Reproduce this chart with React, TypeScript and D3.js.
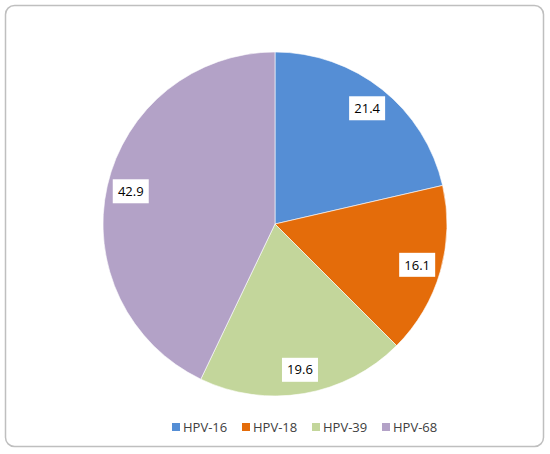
import React, { useRef, useEffect } from "react";
import * as d3 from "d3";

const categories = ["HPV-16", "HPV-18", "HPV-39", "HPV-68"];
const values = [21.4, 16.1, 19.6, 42.9];
const colors = ["#558ED5", "#E46C0A", "#C3D69B", "#B3A2C7"];

const width = 550;
const height = 454;

function App() {
    const svgRef = useRef<SVGSVGElement>(null);

    useEffect(() => {
        const svg = d3.select(svgRef.current);
        svg.selectAll("*").remove();

        const font = "'Open Sans', sans-serif";

        // chart frame
        svg.append("rect")
            .attr("x", 5.5).attr("y", 5.5)
            .attr("width", 538).attr("height", 441)
            .attr("rx", 9)
            .attr("fill", "#fff")
            .attr("stroke", "#BFBFBF")
            .attr("stroke-width", 1.5);

        const cx = 275, cy = 224, r = 172;
        const g = svg.append("g").attr("transform", `translate(${cx},${cy})`);

        const pie = d3.pie<number>().sort(null).value(d => d);
        const arcs = pie(values);
        const arc = d3.arc<d3.PieArcDatum<number>>().innerRadius(0).outerRadius(r);
        const labelArc = d3.arc<d3.PieArcDatum<number>>().innerRadius(r * 0.86).outerRadius(r * 0.86);

        g.selectAll(".slice")
            .data(arcs)
            .join("path")
            .attr("class", "slice")
            .attr("d", arc)
            .attr("fill", (d, i) => colors[i])
            .attr("stroke", "#fff")
            .attr("stroke-width", 0.6);

        const labels = g.selectAll(".label")
            .data(arcs)
            .join("g")
            .attr("class", "label")
            .attr("transform", d => `translate(${labelArc.centroid(d)})`);

        labels.append("rect")
            .attr("x", -18).attr("y", -12)
            .attr("width", 36).attr("height", 24)
            .attr("fill", "#fff");

        labels.append("text")
            .attr("text-anchor", "middle")
            .attr("dy", "0.36em")
            .attr("font-family", font)
            .attr("font-size", 13)
            .attr("fill", "#000")
            .text(d => d.data.toFixed(1));

        // legend
        const legendX = d3.scaleLinear().domain([0, 1]).range([172, 242]);
        const legend = svg.selectAll(".legend")
            .data(categories)
            .join("g")
            .attr("class", "legend")
            .attr("transform", (d, i) => `translate(${legendX(i)},427)`);

        legend.append("rect")
            .attr("x", 0).attr("y", -4)
            .attr("width", 8).attr("height", 8)
            .attr("fill", (d, i) => colors[i]);

        legend.append("text")
            .attr("x", 11)
            .attr("dy", "0.36em")
            .attr("font-family", font)
            .attr("font-size", 13)
            .attr("fill", "#404040")
            .text(d => d);
    }, []);

    return (
        <svg ref={svgRef} width={width} height={height}
            style={{ position: "absolute", left: 0, top: 0 }}></svg>
    );
}

export default App;
